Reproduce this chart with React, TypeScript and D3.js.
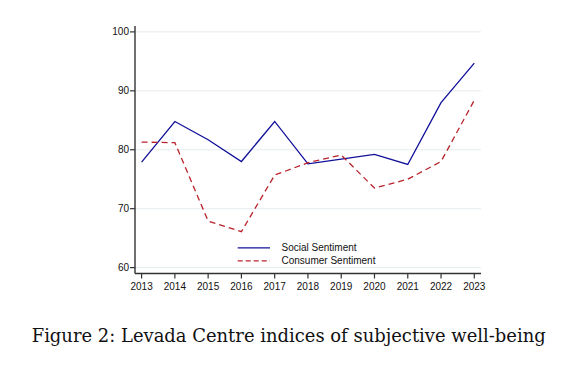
import React from 'react';
import * as d3 from 'd3';

const years = [2013, 2014, 2015, 2016, 2017, 2018, 2019, 2020, 2021, 2022, 2023];
const socialSentiment = [77.9, 84.8, 81.7, 78.0, 84.8, 77.6, 78.4, 79.2, 77.5, 88.0, 94.7];
const consumerSentiment = [81.3, 81.2, 67.9, 66.1, 75.7, 77.8, 79.1, 73.5, 75.0, 78.0, 88.4];
const yTicks = [60, 70, 80, 90, 100];

const App = () => {
    const width = 584;
    const height = 370;
    const left = 135;
    const right = 481;
    const top = 26;
    const bottom = 273.5;

    const x = d3.scaleLinear().domain([2013, 2023]).range([141.6, 474.3]);
    const y = d3.scaleLinear().domain([59, 101]).range([bottom, top]);

    const line = d3.line<number>()
        .x((d, i) => x(years[i]))
        .y(d => y(d));

    const font = '"Liberation Sans", Arial, sans-serif';
    const navy = '#10109a';
    const red = '#b8232b';

    return (
        <svg width={width} height={height} style={{ position: 'absolute', left: 0, top: 0, background: '#fff' }}>
            {/* grid */}
            {yTicks.map(t => (
                <line key={'g' + t} x1={left} x2={right} y1={y(t)} y2={y(t)} stroke="#e6ecef" strokeWidth={1} />
            ))}

            {/* series */}
            <path d={line(socialSentiment) || ''} fill="none" stroke={navy} strokeWidth={1.3} />
            <path d={line(consumerSentiment) || ''} fill="none" stroke={red} strokeWidth={1.3} strokeDasharray="6,4" />

            {/* axes */}
            <line x1={left} x2={left} y1={top} y2={bottom} stroke="#333" strokeWidth={1.4} />
            <line x1={left} x2={right} y1={bottom} y2={bottom} stroke="#333" strokeWidth={1.4} />
            {yTicks.map(t => (
                <g key={'y' + t}>
                    <line x1={left - 5} x2={left} y1={y(t)} y2={y(t)} stroke="#333" strokeWidth={1.2} />
                    <text x={left - 6} y={y(t) + 3.5} textAnchor="end" fontSize={10} fontFamily={font} fill="#111">{t}</text>
                </g>
            ))}
            {years.map(yr => (
                <g key={'x' + yr}>
                    <line x1={x(yr)} x2={x(yr)} y1={bottom} y2={bottom + 5} stroke="#333" strokeWidth={1.2} />
                    <text x={x(yr)} y={bottom + 16} textAnchor="middle" fontSize={10} fontFamily={font} fill="#111">{yr}</text>
                </g>
            ))}

            {/* legend */}
            <line x1={237.7} x2={270} y1={247.8} y2={247.8} stroke={navy} strokeWidth={1.3} />
            <text x={281.5} y={251.3} fontSize={10} fontFamily={font} fill="#111">Social Sentiment</text>
            <line x1={237.7} x2={270} y1={260.8} y2={260.8} stroke={red} strokeWidth={1.3} strokeDasharray="5,3" />
            <text x={281.5} y={264.3} fontSize={10} fontFamily={font} fill="#111">Consumer Sentiment</text>

            {/* caption */}
            <text x={31.7} y={342.3} fontSize={19} fontFamily='"DejaVu Serif", "Liberation Serif", serif' fill="#111"
                textLength={514} lengthAdjust="spacingAndGlyphs">
                Figure 2: Levada Centre indices of subjective well-being
            </text>
        </svg>
    );
};

export default App;
